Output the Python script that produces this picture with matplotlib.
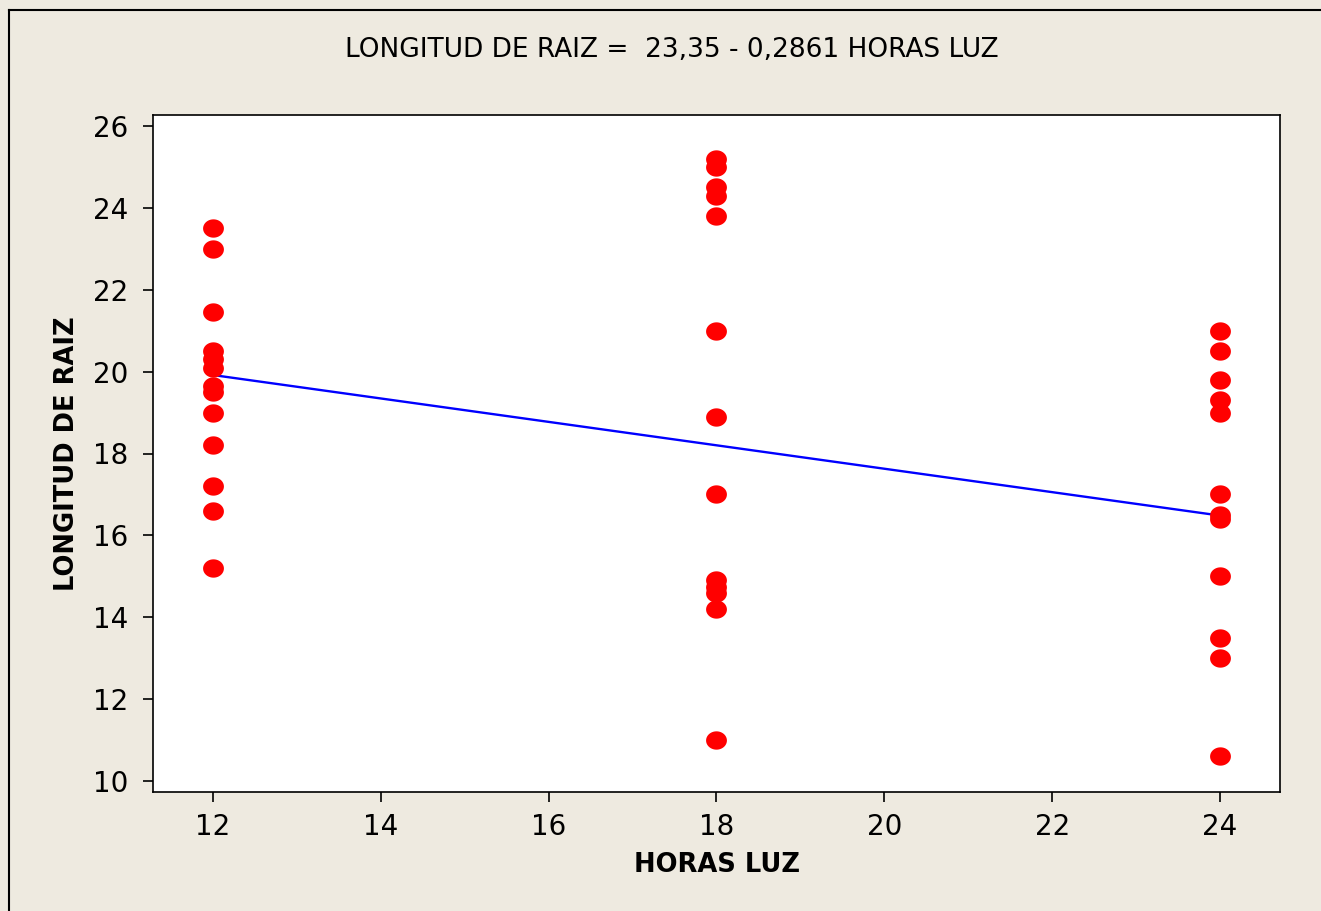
import matplotlib
matplotlib.use("Agg")
import matplotlib.pyplot as plt
import numpy as np
from matplotlib.path import Path
from matplotlib.lines import Line2D

# Data
hours_12 = [23.5, 23.0, 21.45, 20.5, 20.3, 20.1, 19.65, 19.5, 19.0, 18.2, 17.2, 16.6, 15.2]
hours_18 = [25.2, 25.0, 24.5, 24.3, 23.8, 21.0, 18.9, 17.0, 14.9, 14.75, 14.6, 14.2, 11.0]
hours_24 = [21.0, 20.5, 19.8, 19.3, 19.0, 17.0, 16.5, 16.4, 15.0, 13.5, 13.0, 10.6]
x_levels = [12, 18, 24]
intercept = 23.35
slope = -0.2861
xticks = [12, 14, 16, 18, 20, 22, 24]
yticks = [10, 12, 14, 16, 18, 20, 22, 24, 26]

W, H = 1321, 911
fig = plt.figure(figsize=(W / 100, H / 100), dpi=100)
fig.patch.set_facecolor("#EEEAE0")

# outer frame
fig.add_artist(Line2D([9 / W, 9 / W], [0, 1 - 10 / H], color="black", lw=1.5, transform=fig.transFigure))
fig.add_artist(Line2D([9 / W, 1], [1 - 10 / H, 1 - 10 / H], color="black", lw=1.5, transform=fig.transFigure))

left, right, top, bottom = 153, 1280, 115, 792
ax = fig.add_axes([left / W, 1 - bottom / H, (right - left) / W, (bottom - top) / H])
ax.set_facecolor("white")

# elliptical marker
t = np.linspace(0, 2 * np.pi, 60)
ell = Path(np.column_stack([np.cos(t), 0.88 * np.sin(t)]), closed=True)

groups = [hours_12, hours_18, hours_24]
for xv, ys in zip(x_levels, groups):
    ax.plot([xv] * len(ys), ys, linestyle="none", marker=ell, markersize=15,
            color="#FF0000", markeredgewidth=0)

xl = np.array([x_levels[0], x_levels[-1]])
ax.plot(xl, intercept + slope * xl, color="#0000FF", lw=1.7, zorder=1)

ax.set_xlim(11.285, 24.715)
ax.set_ylim(9.73, 26.27)
ax.set_xticks(xticks)
ax.set_yticks(yticks)
ax.tick_params(direction="out", length=7, width=1.2, labelsize=20,
               top=False, right=False)
ax.tick_params(axis="x", pad=8)
ax.tick_params(axis="y", pad=11)
for s in ax.spines.values():
    s.set_linewidth(1.2)

ax.set_xlabel("HORAS LUZ", fontsize=18.5, fontweight="bold", labelpad=8)
ax.set_ylabel("LONGITUD DE RAIZ", fontsize=18.5, fontweight="bold", labelpad=9)

fig.text(672 / W, 1 - 50 / H, "LONGITUD DE RAIZ =  23,35 - 0,2861 HORAS LUZ",
         ha="center", va="center", fontsize=19)

fig.savefig("out.png", dpi=100, facecolor=fig.get_facecolor())
